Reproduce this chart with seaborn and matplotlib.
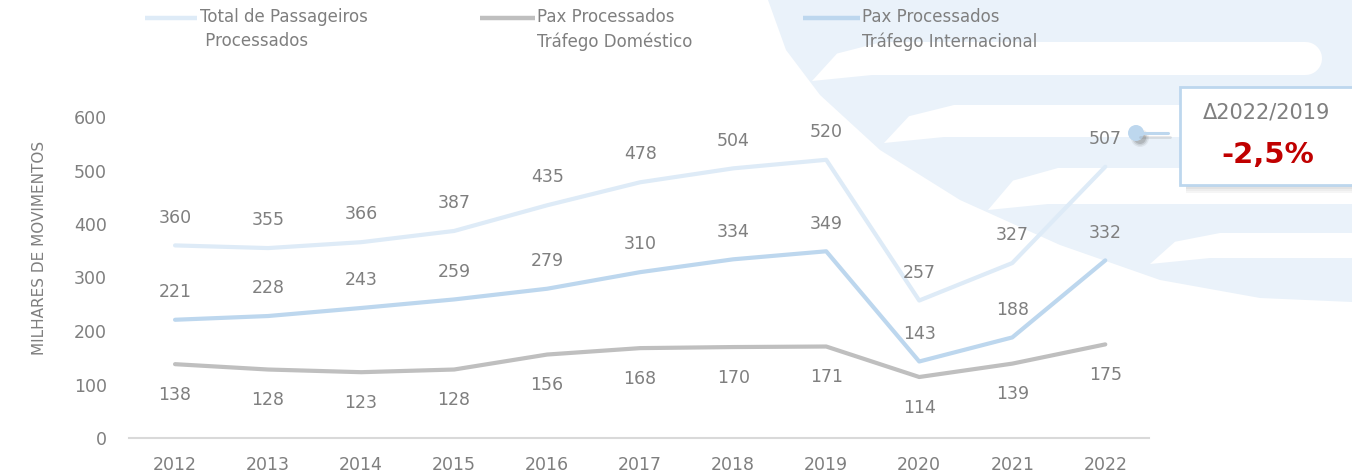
import matplotlib
matplotlib.use("Agg")
import matplotlib.pyplot as plt
import seaborn as sns
import pandas as pd
import numpy as np
from matplotlib.patches import Polygon, Rectangle, Circle

# ---------------- data ----------------
years = [2012, 2013, 2014, 2015, 2016, 2017, 2018, 2019, 2020, 2021, 2022]
total = [360, 355, 366, 387, 435, 478, 504, 520, 257, 327, 507]
domestic = [138, 128, 123, 128, 156, 168, 170, 171, 114, 139, 175]
international = [221, 228, 243, 259, 279, 310, 334, 349, 143, 188, 332]
series_names = ["Total de Passageiros\n Processados",
                "Pax Processados\nTráfego Doméstico",
                "Pax Processados\nTráfego Internacional"]
y_ticks = [0, 100, 200, 300, 400, 500, 600]
y_label = "MILHARES DE MOVIMENTOS"
delta_title = "\u03942022/2019"
delta_value = "-2,5%"

C_TOTAL = "#deebf7"
C_DOM = "#bfbfbf"
C_INTL = "#bdd7ee"
C_TEXT = "#7f7f7f"
C_BG = "#eaf2fa"

sns.set_style("white")
plt.rcParams["font.family"] = ["DejaVu Sans"]

W, H = 1352, 475
fig = plt.figure(figsize=(W / 100, H / 100), dpi=100)
fig.patch.set_facecolor("white")

def fx(px):
    return px / W

def fy(py):
    return 1 - py / H

# ---------------- decorative background ----------------
bg = fig.add_axes([0, 0, 1, 1], zorder=-1)
bg.set_xlim(0, W)
bg.set_ylim(H, 0)
bg.axis("off")
region = [(768, 0), (786, 50), (820, 95), (880, 150), (960, 200), (1060, 245),
          (1160, 280), (1260, 298), (1352, 302), (1352, 0)]
bg.add_patch(Polygon(region, closed=True, facecolor=C_BG, edgecolor="none"))

def stripe(x0, x1, ytop, ybot):
    # white brush-like stripe with a tapered, drooping left end
    th = ybot - ytop
    pts = [(x0, ybot + 6), (x0 + 25, ytop + th * 0.35), (x0 + 70, ytop),
           (x1 - th / 2, ytop)]
    ang = np.linspace(-np.pi / 2, np.pi / 2, 20)
    for a in ang:
        pts.append((x1 - th / 2 + np.cos(a) * th / 2, (ytop + ybot) / 2 + np.sin(a) * th / 2))
    pts.append((x0 + 60, ybot))
    bg.add_patch(Polygon(pts, closed=True, facecolor="white", edgecolor="none"))

stripe(812, 1322, 42, 75)
stripe(884, 1420, 105, 137)
stripe(988, 1420, 168, 204)
stripe(1150, 1420, 233, 258)

# ---------------- main chart ----------------
ax = fig.add_axes([fx(129), fy(438), fx(1149) - fx(129), fy(117) - fy(438)], zorder=1)
ax.patch.set_alpha(0)

df = pd.DataFrame({
    "ano": years * 3,
    "valor": total + domestic + international,
    "serie": [series_names[0]] * len(years) + [series_names[1]] * len(years)
             + [series_names[2]] * len(years),
})
df["x"] = df["ano"] - years[0]
palette = {series_names[0]: C_TOTAL, series_names[1]: C_DOM, series_names[2]: C_INTL}
sns.lineplot(data=df, x="x", y="valor", hue="serie", palette=palette,
             linewidth=3.0, legend=False, ax=ax, sort=False)

ax.set_xlim(-0.495, 10.47)
ax.set_ylim(0, 600)
ax.set_yticks(y_ticks)
ax.set_yticklabels([str(v) for v in y_ticks])
ax.set_xticks(range(len(years)))
ax.set_xticklabels([str(y) for y in years])
ax.tick_params(axis="both", length=0, labelsize=12.5, labelcolor=C_TEXT)
ax.tick_params(axis="x", pad=13)
ax.tick_params(axis="y", pad=16)
for s in ["top", "right", "left"]:
    ax.spines[s].set_visible(False)
ax.spines["bottom"].set_color("#d9d9d9")
ax.spines["bottom"].set_linewidth(1.5)
ax.set_xlabel("")
ax.set_ylabel("")

for i, v in enumerate(total):
    ax.annotate(str(v), (i, v), xytext=(0, 20), textcoords="offset points",
                ha="center", va="center", fontsize=12.5, color=C_TEXT)
for i, v in enumerate(international):
    ax.annotate(str(v), (i, v), xytext=(0, 20), textcoords="offset points",
                ha="center", va="center", fontsize=12.5, color=C_TEXT)
for i, v in enumerate(domestic):
    ax.annotate(str(v), (i, v), xytext=(0, -22), textcoords="offset points",
                ha="center", va="center", fontsize=12.5, color=C_TEXT)

fig.text(fx(40), fy(248), y_label, rotation=90, ha="center", va="center",
         fontsize=11, color=C_TEXT)

# ---------------- legend ----------------
leg_items = [(145, 197, 200, C_TOTAL), (480, 535, 537, C_DOM), (803, 860, 862, C_INTL)]
ov = fig.add_axes([0, 0, 1, 1], zorder=3)
ov.set_xlim(0, W)
ov.set_ylim(H, 0)
ov.axis("off")
for (lx0, lx1, tx, col), name in zip(leg_items, series_names):
    ov.plot([lx0, lx1], [18, 18], color=col, lw=3.2, solid_capstyle="butt")
    ov.text(tx, 8, name, ha="left", va="top", fontsize=12, color=C_TEXT,
            linespacing=1.45)

# ---------------- delta callout ----------------
for k, a in enumerate([0.22, 0.15, 0.09, 0.05]):
    ov.add_patch(Rectangle((1186, 185 + k * 2), 200, 2, facecolor="#404040",
                           edgecolor="none", alpha=a))
ov.add_patch(Rectangle((1180, 87), 190, 98, facecolor="white",
                       edgecolor=C_INTL, linewidth=2))
for r, a in [(9, 0.08), (7.5, 0.12), (6, 0.18)]:
    ov.add_patch(Circle((1140, 138), r, facecolor="#404040", alpha=a,
                        edgecolor="none"))
ov.plot([1140, 1170], [137, 137], color="#707070", lw=2, alpha=0.18)
ov.plot([1136, 1168], [133, 133], color=C_INTL, lw=2.2)
ov.add_patch(Circle((1136, 133), 8, facecolor=C_INTL, edgecolor="none"))
ov.text(1267, 113, delta_title, ha="center", va="center", fontsize=15,
        color=C_TEXT)
ov.text(1268, 155, delta_value, ha="center", va="center", fontsize=21,
        color="#c00000", fontweight="bold")

fig.savefig("out.png", dpi=100)
